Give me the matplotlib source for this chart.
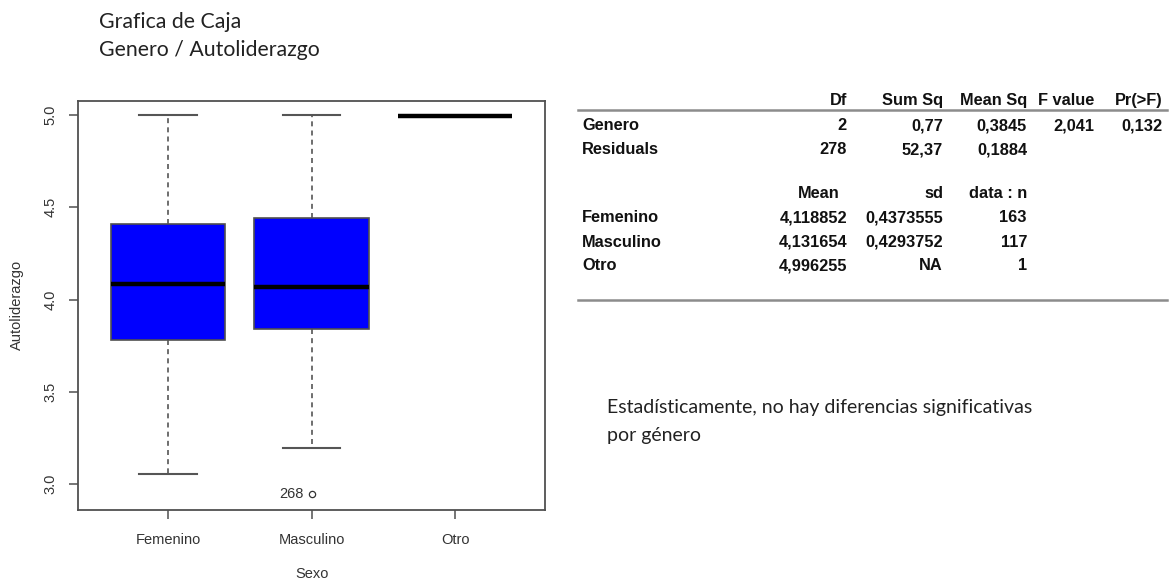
import matplotlib
matplotlib.use("Agg")
import matplotlib.pyplot as plt
from matplotlib.lines import Line2D

W, H = 1171, 582

# Box statistics per group (Autoliderazgo by Sexo)
categories = ["Femenino", "Masculino", "Otro"]
medians = [4.086, 4.069, 4.996255]
q1 = [3.780, 3.842, 4.996255]
q3 = [4.408, 4.440, 4.996255]
whisker_low = [3.053, 3.197, 4.996255]
whisker_high = [5.0, 5.0, 4.996255]
outliers = [[], [2.945], []]
outlier_ids = [[], ["268"], []]
yticks = [3.0, 3.5, 4.0, 4.5, 5.0]

# ANOVA table
anova_cols = ["Df", "Sum Sq", "Mean Sq", "F value", "Pr(>F)"]
anova_rows = ["Genero", "Residuals"]
anova_vals = [["2", "0,77", "0,3845", "2,041", "0,132"],
              ["278", "52,37", "0,1884", "", ""]]

# Group summary table
summary_cols = ["Mean", "sd", "data : n"]
summary_vals = [["4,118852", "0,4373555", "163"],
                ["4,131654", "0,4293752", "117"],
                ["4,996255", "NA", "1"]]

title_lines = ["Grafica de Caja", "Genero / Autoliderazgo"]
note_lines = ["Estadísticamente, no hay diferencias significativas", "por género"]


def fx(px):
    return px / W


def fy(py):
    return 1 - py / H


fig = plt.figure(figsize=(W / 100, H / 100), dpi=100)
fig.patch.set_facecolor("white")

frame_col = "#505050"
ax = fig.add_axes([fx(78), fy(510), fx(545) - fx(78), fy(101) - fy(510)])

stats = []
for i, name in enumerate(categories):
    stats.append(dict(label=name, med=medians[i], q1=q1[i], q3=q3[i],
                      whislo=whisker_low[i], whishi=whisker_high[i],
                      fliers=outliers[i]))

ax.bxp(stats, positions=[1, 2, 3], widths=0.8, patch_artist=True,
       boxprops=dict(facecolor="#0000ff", edgecolor=frame_col, linewidth=1.2),
       medianprops=dict(color="black", linewidth=3.2, solid_capstyle="butt"),
       whiskerprops=dict(color="#555555", linewidth=1.2, linestyle=(0, (3, 2.5))),
       capprops=dict(color="#555555", linewidth=1.5),
       capwidths=0.4,
       flierprops=dict(marker="o", markersize=4.5, markerfacecolor="none",
                       markeredgecolor="#333333", markeredgewidth=0.9))

for i, pts in enumerate(outliers):
    for v, lab in zip(pts, outlier_ids[i]):
        ax.annotate(lab, (i + 1, v), xytext=(-6, 0), textcoords="offset points",
                    ha="right", va="center", fontsize=10.5,
                    family="Liberation Sans", color="#333333")

ax.set_xlim(0.373, 3.627)
ax.set_ylim(2.859, 5.076)
ax.set_yticks(yticks)
ax.set_yticklabels([f"{t:.1f}" for t in yticks], rotation=90, va="center")
ax.set_xticks([1, 2, 3])
ax.set_xticklabels(categories)
for s in ax.spines.values():
    s.set_color(frame_col)
    s.set_linewidth(1.3)
ax.tick_params(axis="both", length=6.5, width=1.1, color=frame_col,
               labelsize=10.5, labelcolor="#333333")
ax.tick_params(axis="x", pad=10)
ax.tick_params(axis="y", pad=8)
for t in ax.get_xticklabels() + ax.get_yticklabels():
    t.set_family("Liberation Sans")

fig.text(fx(17), fy(305), "Autoliderazgo", rotation=90, ha="center", va="center",
         fontsize=10.5, family="Liberation Sans", color="#333333")
fig.text(fx(312), fy(574), "Sexo", ha="center", va="center",
         fontsize=10.5, family="Liberation Sans", color="#333333")

# Titles
fig.text(fx(99), fy(22), title_lines[0], ha="left", va="center",
         fontsize=15.3, family="Lato", color="#222222")
fig.text(fx(99), fy(50), title_lines[1], ha="left", va="center",
         fontsize=15.3, family="Lato", color="#222222")

# ANOVA table
tab_font = dict(fontsize=11.8, family="Liberation Sans", fontweight="bold", color="#111111")
anova_right = [847, 943, 1027, 1094, 1163]
for col, xr in zip(anova_cols, anova_right):
    fig.text(fx(xr), fy(100), col, ha="right", va="center", **tab_font)
fig.add_artist(Line2D([fx(578), fx(1167)], [fy(110), fy(110)],
                      color="#8c8c8c", linewidth=1.8))
for r, (name, vals) in enumerate(zip(anova_rows, anova_vals)):
    y = [126, 150][r]
    fig.text(fx(582), fy(y), name, ha="left", va="center", **tab_font)
    for v, xr in zip(vals, anova_right):
        if v:
            fig.text(fx(xr), fy(y), v, ha="right", va="center", **tab_font)

# Summary table
summary_right_hdr = [840, 943, 1027]
summary_right = [847, 943, 1027]
for col, xr in zip(summary_cols, summary_right_hdr):
    fig.text(fx(xr), fy(194), col, ha="right", va="center", **tab_font)
for r, (name, vals) in enumerate(zip(categories, summary_vals)):
    y = [218, 242, 266][r]
    fig.text(fx(582), fy(y), name, ha="left", va="center", **tab_font)
    for v, xr in zip(vals, summary_right):
        fig.text(fx(xr), fy(y), v, ha="right", va="center", **tab_font)
fig.add_artist(Line2D([fx(578), fx(1167)], [fy(300), fy(300)],
                      color="#8c8c8c", linewidth=1.8))

# Note
fig.text(fx(607), fy(408), note_lines[0], ha="left", va="center",
         fontsize=14, family="Lato", color="#222222")
fig.text(fx(607), fy(435), note_lines[1], ha="left", va="center",
         fontsize=14, family="Lato", color="#222222")

fig.savefig("out.png", dpi=100, facecolor="white")
